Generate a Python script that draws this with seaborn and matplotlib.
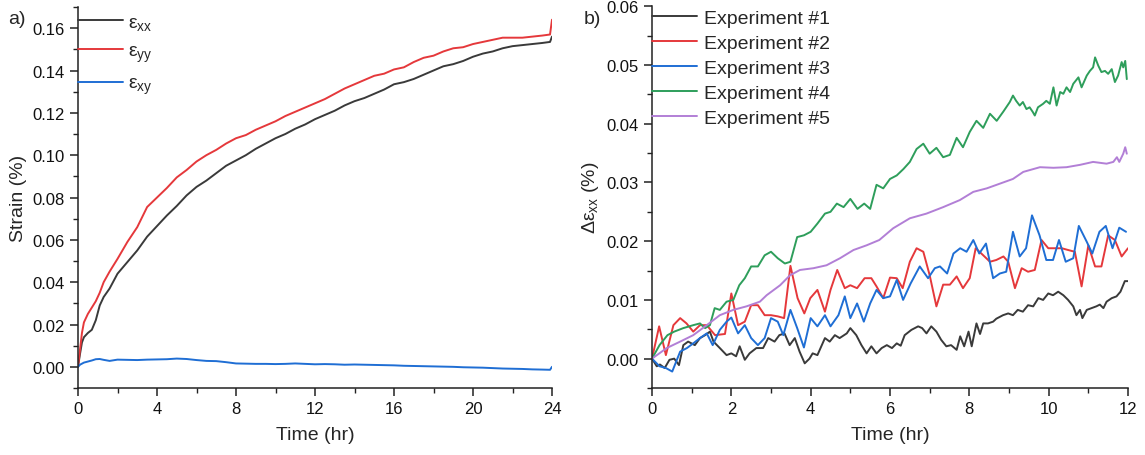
import numpy as np
import pandas as pd
import matplotlib
matplotlib.use('Agg')
import matplotlib.pyplot as plt
from matplotlib.ticker import MultipleLocator, FormatStrFormatter
import seaborn as sns

# ---------------- Panel a data ----------------
time_a = [0, 0.1, 0.2, 0.3, 0.5, 0.7, 0.9, 1.1, 1.3, 1.6, 2.0, 2.5, 3.0, 3.5, 4.0, 4.5,
          5.0, 5.5, 6.0, 6.5, 7.0, 7.5, 8.0, 8.5, 9.0, 9.5, 10, 10.5, 11, 11.5, 12, 12.5,
          13, 13.5, 14, 14.5, 15, 15.5, 16, 16.5, 17, 17.5, 18, 18.5, 19, 19.5, 20, 20.5,
          21, 21.5, 22, 22.5, 23, 23.5, 23.9, 24.0]
strain_xx = [0, 0.006, 0.0115, 0.014, 0.016, 0.0175, 0.022, 0.029, 0.033, 0.037, 0.044, 0.0495,
             0.055, 0.0615, 0.0665, 0.0715, 0.076, 0.081, 0.085, 0.088, 0.0915, 0.095, 0.0975,
             0.1, 0.103, 0.1055, 0.108, 0.110, 0.1125, 0.1145, 0.117, 0.119, 0.121, 0.1235,
             0.1255, 0.127, 0.129, 0.131, 0.1335, 0.1345, 0.136, 0.138, 0.140, 0.142, 0.143,
             0.1445, 0.1465, 0.148, 0.149, 0.1505, 0.1515, 0.152, 0.1525, 0.153, 0.1535, 0.156]
strain_yy = [0, 0.008, 0.016, 0.021, 0.025, 0.028, 0.031, 0.035, 0.040, 0.045, 0.051, 0.059,
             0.066, 0.0755, 0.080, 0.0845, 0.0895, 0.093, 0.097, 0.1, 0.1025, 0.1055, 0.108,
             0.1095, 0.112, 0.114, 0.116, 0.1185, 0.1205, 0.1225, 0.1245, 0.1265, 0.129, 0.1315,
             0.1335, 0.1355, 0.1375, 0.1385, 0.1405, 0.1415, 0.144, 0.146, 0.147, 0.149, 0.1505,
             0.151, 0.1525, 0.1535, 0.1545, 0.1555, 0.1555, 0.1555, 0.156, 0.1565, 0.157, 0.164]
strain_xy = [0, 0.001, 0.0015, 0.002, 0.0025, 0.003, 0.0036, 0.0037, 0.0033, 0.0028, 0.0034,
             0.0033, 0.0032, 0.0034, 0.0035, 0.0036, 0.0039, 0.0037, 0.0032, 0.0028, 0.0027,
             0.0022, 0.0016, 0.0015, 0.0014, 0.0014, 0.0013, 0.0014, 0.0016, 0.0014, 0.0012,
             0.0013, 0.0012, 0.0010, 0.0011, 0.0010, 0.0009, 0.0008, 0.0007, 0.0005, 0.0004,
             0.0003, 0.0002, 0.0001, 0.0, -0.0002, -0.0003, -0.0004, -0.0006, -0.0008, -0.0009,
             -0.0010, -0.0012, -0.0013, -0.0014, 0.0]
labels_a = [r'$\mathrm{ε_{xx}}$', r'$\mathrm{ε_{yy}}$', r'$\mathrm{ε_{xy}}$']
colors_a = ['#3a3a3a', '#e5383b', '#1f6ed4']

# ---------------- Panel b data ----------------
t1 = [0, 0.12, 0.2, 0.32, 0.44, 0.56, 0.68, 0.79, 0.91, 1.08, 1.21, 1.34, 1.46, 1.55, 1.71,
      1.88, 2.0, 2.12, 2.21, 2.34, 2.46, 2.63, 2.8, 2.93, 3.09, 3.21, 3.34, 3.47, 3.6, 3.72,
      3.85, 3.97, 4.05, 4.17, 4.36, 4.48, 4.61, 4.73, 4.91, 5.0, 5.15, 5.28, 5.41, 5.53, 5.66,
      5.79, 5.92, 6.05, 6.17, 6.27, 6.37, 6.54, 6.71, 6.81, 6.92, 7.04, 7.17, 7.29, 7.42, 7.54,
      7.68, 7.77, 7.87, 7.98, 8.06, 8.18, 8.27, 8.35, 8.47, 8.6, 8.68, 8.85, 8.98, 9.1, 9.22,
      9.35, 9.48, 9.61, 9.74, 9.86, 9.99, 10.11, 10.24, 10.37, 10.49, 10.62, 10.7, 10.79, 10.85,
      10.96, 11.08, 11.2, 11.29, 11.38, 11.46, 11.59, 11.71, 11.81, 11.92, 12.0]
exp1 = [0, -0.0013, -0.001, -0.0016, -0.0002, 0, -0.0011, 0.0023, 0.0029, 0.0023, 0.0035, 0.004,
        0.0046, 0.0029, 0.0018, 0.0006, 0.0009, 0.0004, 0.0021, -0.0002, 0.0009, 0.0018, 0.0018,
        0.0035, 0.0029, 0.004, 0.0043, 0.0023, 0.0035, 0.0012, -0.0008, 0, 0.0009, 0.0006, 0.0035,
        0.0029, 0.004, 0.0035, 0.0043, 0.0052, 0.004, 0.0023, 0.0009, 0.0021, 0.0009, 0.0018,
        0.0023, 0.0018, 0.0026, 0.0022, 0.004, 0.0049, 0.0055, 0.0052, 0.0043, 0.0055, 0.0046,
        0.0032, 0.0021, 0.0023, 0.0015, 0.0038, 0.0021, 0.0046, 0.0021, 0.006, 0.0042, 0.006,
        0.006, 0.0063, 0.0068, 0.0074, 0.0077, 0.0074, 0.0083, 0.008, 0.0091, 0.0089, 0.0103,
        0.01, 0.0111, 0.0108, 0.0114, 0.0108, 0.01, 0.0089, 0.0074, 0.0083, 0.0069, 0.0083,
        0.0086, 0.0089, 0.0092, 0.0086, 0.0097, 0.0103, 0.0106, 0.0114, 0.0132, 0.0132]

t2 = [0, 0.18, 0.35, 0.54, 0.71, 0.87, 1.04, 1.21, 1.38, 1.59, 1.84, 2.0, 2.17, 2.34, 2.5, 2.67,
      2.84, 3.0, 3.17, 3.33, 3.49, 3.67, 3.84, 3.99, 4.17, 4.36, 4.5, 4.67, 4.86, 5.0, 5.17, 5.36,
      5.53, 5.66, 5.83, 6.0, 6.17, 6.32, 6.5, 6.67, 6.84, 7.0, 7.17, 7.34, 7.51, 7.68, 7.84, 8.01,
      8.16, 8.35, 8.52, 8.68, 8.86, 8.98, 9.15, 9.32, 9.48, 9.65, 9.82, 9.99, 10.16, 10.33,
      10.49, 10.66, 10.83, 11.0, 11.17, 11.33, 11.5, 11.67, 11.84, 12.0]
exp2 = [0, 0.0055, 0.0006, 0.0057, 0.0069, 0.006, 0.0046, 0.0057, 0.0057, 0.004, 0.0042, 0.0111,
        0.0057, 0.0063, 0.0091, 0.0091, 0.0074, 0.0074, 0.0072, 0.0069, 0.0158, 0.0103, 0.0077,
        0.0103, 0.0117, 0.008, 0.0117, 0.0151, 0.012, 0.0125, 0.012, 0.0137, 0.0137, 0.0123,
        0.0103, 0.0138, 0.0137, 0.012, 0.0165, 0.0188, 0.0182, 0.0142, 0.0089, 0.0126, 0.0126,
        0.014, 0.012, 0.0137, 0.0188, 0.0176, 0.0165, 0.0168, 0.0174, 0.0165, 0.012, 0.0154,
        0.0148, 0.0151, 0.0202, 0.0188, 0.0188, 0.0188, 0.0185, 0.0182, 0.0123, 0.0193, 0.0157,
        0.0157, 0.021, 0.0202, 0.0174, 0.0188]

t3 = [0, 0.19, 0.35, 0.51, 0.71, 0.88, 1.04, 1.21, 1.38, 1.53, 1.71, 1.88, 2.0, 2.17, 2.34, 2.5,
      2.67, 2.84, 3.0, 3.17, 3.31, 3.49, 3.66, 3.83, 4.0, 4.17, 4.36, 4.5, 4.7, 4.86, 5.0, 5.17,
      5.34, 5.5, 5.66, 5.83, 6.0, 6.17, 6.33, 6.52, 6.75, 6.96, 7.13, 7.26, 7.44, 7.6, 7.77,
      7.93, 8.1, 8.25, 8.42, 8.6, 8.77, 8.93, 9.1, 9.27, 9.43, 9.58, 9.77, 9.94, 10.11, 10.26,
      10.43, 10.62, 10.76, 10.96, 11.1, 11.28, 11.44, 11.61, 11.78, 11.95]
exp3 = [0, -0.0013, -0.0016, -0.0022, 0.0012, 0.0018, 0.0026, 0.0035, 0.0043, 0.0023, 0.0049,
        0.0063, 0.007, 0.0043, 0.0057, 0.0035, 0.0023, 0.0035, 0.0069, 0.0063, 0.004, 0.0083,
        0.0052, 0.0019, 0.0069, 0.0055, 0.0074, 0.0055, 0.0074, 0.0106, 0.0069, 0.0094, 0.0063,
        0.0094, 0.0117, 0.0103, 0.0106, 0.0134, 0.01, 0.0128, 0.0157, 0.0137, 0.0154, 0.0157,
        0.0145, 0.0179, 0.0188, 0.0182, 0.0202, 0.0179, 0.0196, 0.0137, 0.0145, 0.0148, 0.0216,
        0.0174, 0.0188, 0.0244, 0.021, 0.0168, 0.0168, 0.0202, 0.0165, 0.0171, 0.0226, 0.0199,
        0.0179, 0.0216, 0.0226, 0.0188, 0.0223, 0.0216]

t4 = [0, 0.19, 0.39, 0.56, 0.79, 1.04, 1.21, 1.34, 1.46, 1.58, 1.71, 1.88, 2.05, 2.2, 2.34, 2.5,
      2.67, 2.84, 3.0, 3.17, 3.35, 3.49, 3.66, 3.83, 4.0, 4.17, 4.36, 4.5, 4.66, 4.83, 5.0, 5.18,
      5.35, 5.5, 5.66, 5.83, 6.0, 6.17, 6.34, 6.5, 6.67, 6.84, 7.0, 7.17, 7.34, 7.51, 7.68, 7.84,
      8.01, 8.18, 8.35, 8.52, 8.69, 8.86, 9.02, 9.1, 9.18, 9.27, 9.35, 9.44, 9.52, 9.6, 9.65,
      9.73, 9.86, 9.94, 10.03, 10.12, 10.2, 10.29, 10.37, 10.45, 10.54, 10.62, 10.75, 10.83,
      10.96, 11.04, 11.12, 11.17, 11.25, 11.33, 11.42, 11.5, 11.59, 11.67, 11.75, 11.84, 11.88,
      11.93, 11.97]
exp4 = [0, 0.0023, 0.004, 0.0046, 0.0052, 0.0057, 0.006, 0.0052, 0.0057, 0.0086, 0.0083, 0.0097,
        0.01, 0.0125, 0.0137, 0.0157, 0.0157, 0.0176, 0.0182, 0.0171, 0.0162, 0.0165, 0.0207,
        0.021, 0.0216, 0.023, 0.0247, 0.025, 0.0264, 0.0258, 0.0272, 0.0255, 0.0264, 0.0255,
        0.0296, 0.029, 0.0306, 0.0312, 0.0323, 0.0335, 0.0357, 0.0366, 0.0349, 0.0359, 0.0343,
        0.0347, 0.0376, 0.036, 0.0386, 0.0405, 0.0393, 0.0417, 0.0405, 0.0421, 0.0437, 0.0448,
        0.0439, 0.0431, 0.0437, 0.0425, 0.0428, 0.042, 0.0414, 0.0428, 0.0434, 0.0439, 0.0434,
        0.0462, 0.0431, 0.0454, 0.0451, 0.0462, 0.0454, 0.0468, 0.0479, 0.0462, 0.0482, 0.049,
        0.0496, 0.0513, 0.0499, 0.0488, 0.049, 0.0485, 0.0493, 0.0471, 0.0482, 0.0505, 0.0496,
        0.0507, 0.0476]

t5 = [0, 0.37, 0.71, 1.04, 1.38, 1.71, 2.05, 2.38, 2.72, 2.89, 3.23, 3.48, 3.73, 4.07, 4.4, 4.74,
      5.08, 5.41, 5.73, 6.08, 6.5, 6.92, 7.34, 7.76, 8.1, 8.44, 8.77, 9.1, 9.36, 9.78, 10.12,
      10.45, 10.79, 11.12, 11.46, 11.63, 11.72, 11.78, 11.88, 11.93, 11.97]
exp5 = [0, 0.0018, 0.0029, 0.004, 0.0057, 0.0074, 0.0083, 0.0089, 0.0097, 0.0108, 0.0125, 0.0142,
        0.0151, 0.0154, 0.0159, 0.0171, 0.0185, 0.0193, 0.0202, 0.0222, 0.0239, 0.0247, 0.0258,
        0.027, 0.0284, 0.029, 0.0298, 0.0306, 0.0318, 0.0326, 0.0325, 0.0326, 0.033, 0.0335,
        0.0332, 0.0335, 0.0343, 0.0335, 0.0349, 0.036, 0.0349]

labels_b = ['Experiment #1', 'Experiment #2', 'Experiment #3', 'Experiment #4', 'Experiment #5']
colors_b = ['#3a3a3a', '#e5383b', '#1f6ed4', '#2e9e5b', '#b27fd6']

# ---------------- Build tables ----------------
dfA = pd.concat([
    pd.DataFrame({'Time': time_a, 'Strain': s, 'Component': lab})
    for s, lab in zip([strain_xx, strain_yy, strain_xy], labels_a)
], ignore_index=True)

dfB = pd.concat([
    pd.DataFrame({'Time': t, 'Delta': v, 'Experiment': lab})
    for t, v, lab in zip([t1, t2, t3, t4, t5], [exp1, exp2, exp3, exp4, exp5], labels_b)
], ignore_index=True)

# ---------------- Style ----------------
sns.set_style('ticks')
plt.rcParams['font.family'] = ['Liberation Sans', 'DejaVu Sans']
plt.rcParams['mathtext.fontset'] = 'custom'
plt.rcParams['mathtext.rm'] = 'Liberation Sans'
plt.rcParams['mathtext.it'] = 'Liberation Sans:italic'
plt.rcParams['mathtext.bf'] = 'Liberation Sans:bold'

W, H = 1145, 456
fig = plt.figure(figsize=(W / 100, H / 100), dpi=100)
axA = fig.add_axes([78 / W, 1 - 389 / H, (552 - 78) / W, (389 - 8) / H])
axB = fig.add_axes([652 / W, 1 - 389 / H, (1128 - 652) / W, (389 - 7.3) / H])

sns.lineplot(data=dfA, x='Time', y='Strain', hue='Component',
             palette=dict(zip(labels_a, colors_a)), hue_order=labels_a,
             estimator=None, sort=False, linewidth=1.4, ax=axA)
sns.lineplot(data=dfB, x='Time', y='Delta', hue='Experiment',
             palette=dict(zip(labels_b, colors_b)), hue_order=labels_b,
             estimator=None, sort=False, linewidth=1.4, ax=axB)

tick_color = '#222222'
for ax in (axA, axB):
    sns.despine(ax=ax)
    for sp in ('left', 'bottom'):
        ax.spines[sp].set_linewidth(1.1)
        ax.spines[sp].set_color(tick_color)
    ax.tick_params(which='major', direction='out', length=6, width=1.1,
                   labelsize=12, colors=tick_color, labelcolor='#111111')
    ax.tick_params(which='minor', direction='out', length=3.5, width=1.0, colors=tick_color)
    ax.yaxis.set_major_formatter(FormatStrFormatter('%.2f'))

axA.set_xlim(0, 24)
axA.set_ylim(-0.01, 0.17)
axA.xaxis.set_major_locator(MultipleLocator(4))
axA.xaxis.set_minor_locator(MultipleLocator(2))
axA.yaxis.set_major_locator(MultipleLocator(0.02))
axA.yaxis.set_minor_locator(MultipleLocator(0.01))
axA.set_xlabel('Time (hr)', fontsize=14, labelpad=7)
axA.set_ylabel('Strain (%)', fontsize=14, labelpad=4)

axB.set_xlim(0, 12)
axB.set_ylim(-0.005, 0.06)
axB.xaxis.set_major_locator(MultipleLocator(2))
axB.xaxis.set_minor_locator(MultipleLocator(1))
axB.yaxis.set_major_locator(MultipleLocator(0.01))
axB.yaxis.set_minor_locator(MultipleLocator(0.005))
axB.set_xlabel('Time (hr)', fontsize=14, labelpad=7)
axB.set_ylabel(r'$\mathrm{Δε_{xx}}$ (%)', fontsize=14, labelpad=4)

hA, lA = axA.get_legend_handles_labels()
axA.legend(hA, lA, loc='upper left', bbox_to_anchor=(0.0, 0.984), frameon=False,
           fontsize=14, handlelength=2.3, handletextpad=0.28, labelspacing=0.55,
           borderpad=0.0, borderaxespad=0.0)
hB, lB = axB.get_legend_handles_labels()
axB.legend(hB, lB, loc='upper left', bbox_to_anchor=(0.0, 0.992), frameon=False,
           fontsize=14, handlelength=2.3, handletextpad=0.35, labelspacing=0.38,
           borderpad=0.0, borderaxespad=0.0)

fig.text(8 / W, 1 - 20 / H, 'a)', fontsize=14, va='center', ha='left')
fig.text(584 / W, 1 - 20 / H, 'b)', fontsize=14, va='center', ha='left')

fig.savefig('out.png', dpi=100)
